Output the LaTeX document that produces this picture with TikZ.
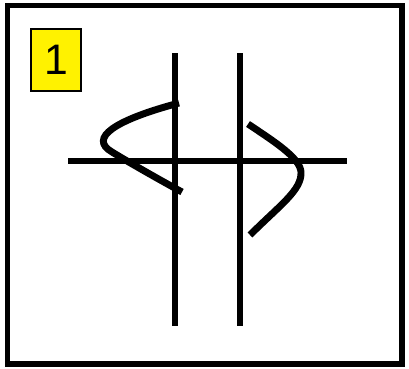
\documentclass[tikz,border=0pt]{standalone}
\usepackage{fontspec}
\setmainfont{Liberation Sans}
\begin{document}
\begin{tikzpicture}[x=0.75pt, y=-0.75pt,
  frame/.style={draw, line width=3.8pt},
  tag/.style={draw, fill=yellow, line width=0.8pt, minimum width=37.5pt, minimum height=46.5pt, inner sep=0pt, font=\fontsize{32}{32}\selectfont},
  axis/.style={line width=3.8pt},
  wave/.style={line width=5.2pt}]
  \useasboundingbox (0,0) rectangle (409,368);
  \draw[frame] (7.5,5.5) rectangle (402,364);
  \node[tag] (num) at (56,60) {1};

  % straight lines
  \coordinate (lt) at (175,53);
  \coordinate (lb) at (175,326);
  \coordinate (rt) at (240,53);
  \coordinate (rb) at (240,326);
  \coordinate (hl) at (68,161);
  \coordinate (hr) at (347,161);
  \draw[axis] (lt) -- (lb);
  \draw[axis] (rt) -- (rb);
  \draw[axis] (hl) -- (hr);

  % curved strokes
  \draw[wave] (179,103) .. controls (115,120) and (88,138) .. (112,152)
    .. controls (130,163) and (160,180) .. (182,192);
  \draw[wave] (248,124) .. controls (275,142) and (300,158) .. (301,172)
    .. controls (302,190) and (280,205) .. (250,235);
\end{tikzpicture}
\end{document}
